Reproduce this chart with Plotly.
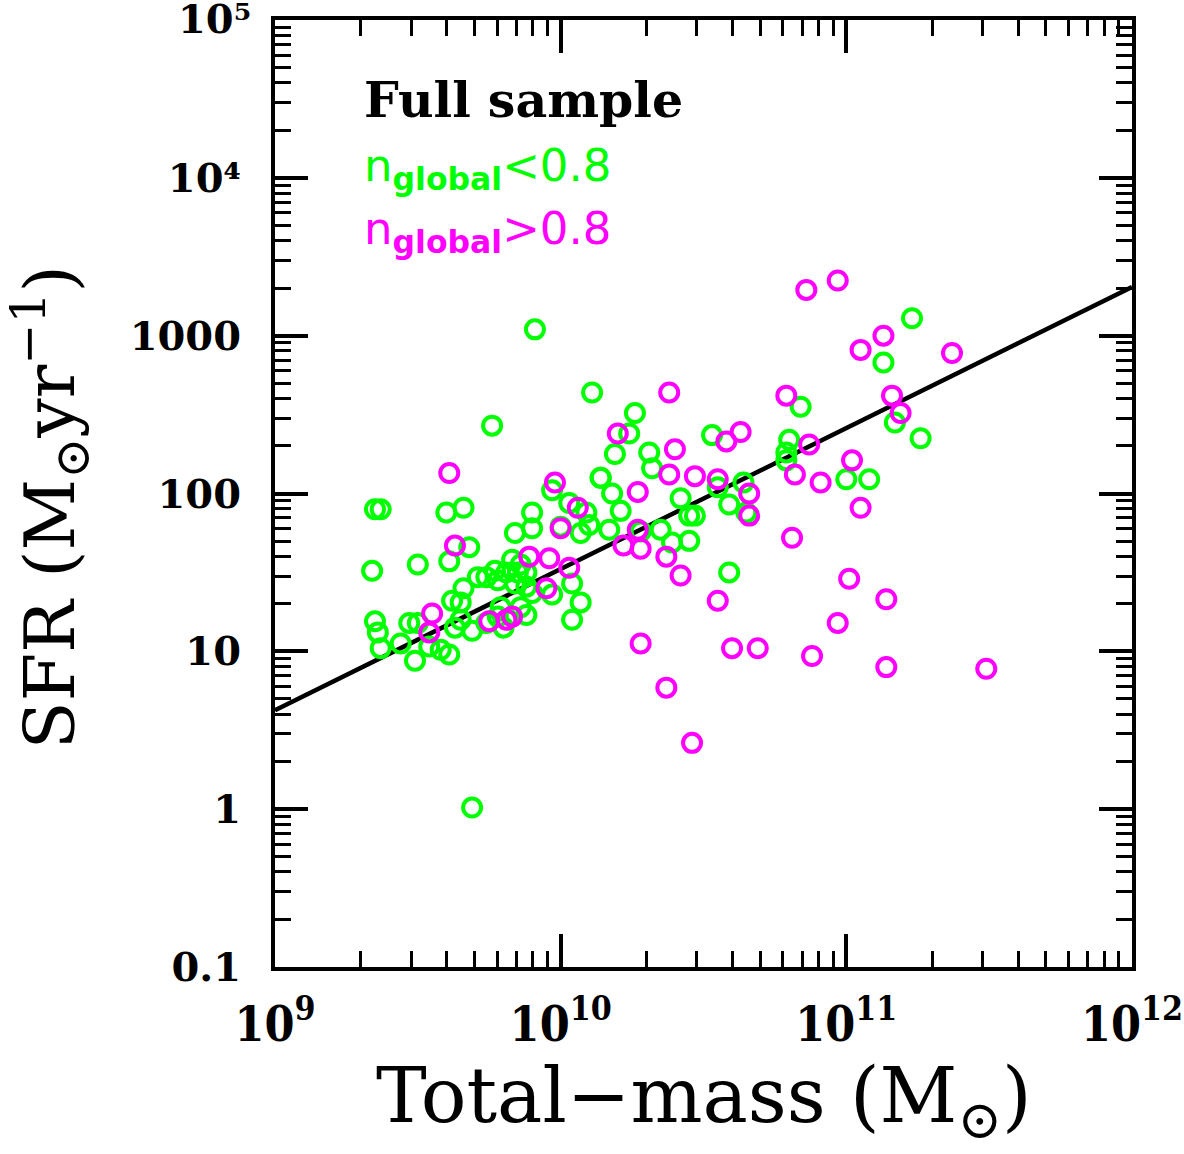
import plotly.graph_objects as go

# log10(Total mass / Msun) and log10(SFR / Msun yr^-1)
green_log_mass = [9.35, 9.37, 9.60, 9.66, 9.34, 9.50, 9.61, 9.68, 9.76, 9.90, 9.90, 9.84, 9.97, 10.03,
                  10.00, 10.07, 10.10, 10.14, 9.35, 9.36, 9.37, 9.44, 9.47, 9.50, 9.49, 9.58, 9.61, 9.54,
                  9.62, 9.66, 9.65, 9.71, 9.74, 9.77, 9.78, 9.83, 9.85, 9.88, 9.84, 9.88, 9.90, 9.65, 9.63,
                  9.69, 9.74, 9.78, 9.79, 9.80, 9.86, 9.88, 9.97, 10.04, 10.07, 10.04, 9.91, 10.11, 10.26,
                  10.24, 10.19, 10.31, 10.32, 10.14, 10.18, 10.21, 10.42, 10.45, 10.47, 10.53, 10.55, 10.59,
                  10.64, 10.65, 10.80, 10.79, 10.79, 10.84, 10.59, 10.35, 10.39, 10.45, 10.17, 10.09, 10.28,
                  11.00, 11.08, 11.23, 11.13, 11.17, 11.26, 9.69, 9.86, 9.81]
green_log_sfr = [1.90, 1.90, 1.88, 1.91, 1.51, 1.55, 1.57, 1.66, 2.43, 1.88, 1.78, 1.75, 2.02, 1.94,
                 1.79, 1.75, 1.80, 2.10, 1.19, 1.12, 1.02, 1.05, 1.18, 1.18, 0.94, 1.01, 0.98, 1.03,
                 1.32, 1.40, 1.31, 1.47, 1.47, 1.51, 1.45, 1.58, 1.50, 1.50, 1.43, 1.41, 1.37, 1.20, 1.15,
                 1.13, 1.18, 1.22, 1.28, 1.15, 1.28, 1.23, 1.36, 1.43, 1.31, 1.20, 3.04, 2.64, 2.51,
                 2.38, 2.25, 2.26, 2.16, 2.10, 2.00, 1.89, 1.97, 1.86, 1.86, 2.37, 2.04, 1.93,
                 2.07, 1.88, 2.34, 2.26, 2.21, 2.55, 1.50, 1.77, 1.69, 1.70, 1.77, 1.88, 1.76,
                 2.09, 2.09, 3.11, 2.83, 2.45, 2.35, 0.01, 1.55, 1.50]

magenta_log_mass = [9.61, 9.98, 10.06, 10.00, 9.63, 9.89, 9.96, 10.03, 9.95, 9.55, 9.54, 9.75, 9.81, 9.83,
                    10.38, 10.79, 10.20, 10.40, 10.58, 10.63, 10.38, 10.47, 10.55, 10.66, 10.66, 10.27,
                    10.82, 10.81, 10.27, 10.22, 10.28, 10.37, 10.42, 10.87, 11.02, 10.91, 11.05, 10.55,
                    11.01, 10.97, 11.14, 10.28, 10.60, 10.69, 10.88, 11.14, 10.37, 10.46, 10.86, 10.97,
                    11.13, 11.05, 11.37, 11.16, 11.19, 11.49]
magenta_log_sfr = [2.13, 2.07, 1.91, 1.78, 1.67, 1.60, 1.59, 1.53, 1.40, 1.24, 1.12, 1.19, 1.20, 1.22,
                   2.64, 2.62, 2.38, 2.28, 2.33, 2.39, 2.12, 2.11, 2.09, 2.00, 1.86, 2.01,
                   2.12, 1.72, 1.77, 1.67, 1.65, 1.60, 1.48, 2.31, 2.21, 2.07, 1.91, 1.32,
                   1.46, 1.18, 1.33, 1.05, 1.02, 1.02, 0.97, 0.90, 0.77, 0.42, 3.29, 3.35,
                   3.00, 2.91, 2.89, 2.62, 2.51, 0.89]

# best-fit relation: log SFR = fit_intercept + fit_slope * (log M - 9)
fit_intercept = 0.627
fit_slope = 0.894
fit_log_mass = [9.0, 12.0]

x_tickvals = [1e9, 1e10, 1e11, 1e12]
x_ticktext = ["10<sup>9</sup>", "10<sup>10</sup>", "10<sup>11</sup>", "10<sup>12</sup>"]
y_tickvals = [0.1, 1, 10, 100, 1000, 1e4, 1e5]
y_ticktext = ["0.1", "1", "10", "100", "1000", "10\u2074", ""]
y_top_label = "10\u2075"
x_decades = [9, 10, 11]
y_decades = [-1, 0, 1, 2, 3, 4]
minor_digits = [2, 3, 4, 5, 6, 7, 8, 9]

GREEN = "#00ff00"
MAGENTA = "#ff00ff"

fig = go.Figure()

fit_x = [10 ** v for v in fit_log_mass]
fit_y = [10 ** (fit_intercept + fit_slope * (v - 9)) for v in fit_log_mass]
fig.add_trace(go.Scatter(x=fit_x, y=fit_y, mode="lines",
                         line=dict(color="black", width=4.5), showlegend=False))

marker_style = dict(symbol="circle-open", size=18)
fig.add_trace(go.Scatter(x=[10 ** v for v in green_log_mass], y=[10 ** v for v in green_log_sfr],
                         mode="markers", showlegend=False,
                         marker=dict(**marker_style, color=GREEN, line=dict(color=GREEN, width=4))))
fig.add_trace(go.Scatter(x=[10 ** v for v in magenta_log_mass], y=[10 ** v for v in magenta_log_sfr],
                         mode="markers", showlegend=False,
                         marker=dict(**marker_style, color=MAGENTA, line=dict(color=MAGENTA, width=4))))

x_minor = [d * 10 ** e for e in x_decades for d in minor_digits]
y_minor = [d * 10.0 ** e for e in y_decades for d in minor_digits]

axis_common = dict(
    type="log", showgrid=False, zeroline=False, automargin=False,
    showline=True, linecolor="black", linewidth=4, mirror="allticks",
    ticks="inside", ticklen=33, tickwidth=3.5, tickcolor="black",
    ticklabeloverflow="allow",
)

fig.update_xaxes(**axis_common, range=[9, 12.0001], tickvals=x_tickvals, ticktext=x_ticktext,
                 minor=dict(ticks="inside", ticklen=16, tickwidth=3, tickcolor="black",
                            showgrid=False, tickvals=x_minor),
                 tickfont=dict(family="DejaVu Serif Condensed, DejaVu Serif", size=48, color="black",
                               weight="bold"),
                 ticklabelstandoff=12)
y_tickfont = dict(family="DejaVu Serif", size=40, color="black", weight="bold")
fig.update_yaxes(**axis_common, range=[-1.0001, 5.0001], tickvals=y_tickvals, ticktext=y_ticktext,
                 minor=dict(ticks="inside", ticklen=16, tickwidth=3, tickcolor="black",
                            showgrid=False, tickvals=y_minor),
                 tickfont=y_tickfont, ticklabelstandoff=22)

# top y tick label kept inside the page
fig.add_annotation(x=-0.0257, y=1.0, xref="paper", yref="paper", xanchor="right", yanchor="middle",
                   yshift=2, showarrow=False, text=y_top_label, font=y_tickfont)

fig.add_annotation(x=0.5, y=-0.142, xref="paper", yref="paper", xanchor="center", yanchor="middle",
                   showarrow=False, text="Total\u2212mass (M<sub>\u2299</sub>)",
                   font=dict(family="DejaVu Serif", size=76, color="black"))
fig.add_annotation(x=-0.262, y=0.486, xref="paper", yref="paper", xanchor="center", yanchor="middle",
                   showarrow=False, textangle=-90, text="SFR (M<sub>\u2299</sub>yr<sup>\u22121</sup>)",
                   font=dict(family="DejaVu Serif", size=70, color="black"))

fig.add_annotation(x=0.102, y=0.915, xref="paper", yref="paper", xanchor="left", yanchor="middle",
                   showarrow=False, text="<b>Full sample</b>",
                   font=dict(family="DejaVu Serif", size=49, color="black"))
fig.add_annotation(x=0.102, y=0.844, xref="paper", yref="paper", xanchor="left", yanchor="middle",
                   showarrow=False, text="n<sub><b>global</b></sub><0.8",
                   font=dict(family="DejaVu Sans", size=45, color=GREEN))
fig.add_annotation(x=0.102, y=0.777, xref="paper", yref="paper", xanchor="left", yanchor="middle",
                   showarrow=False, text="n<sub><b>global</b></sub>>0.8",
                   font=dict(family="DejaVu Sans", size=45, color=MAGENTA))

fig.update_layout(width=1184, height=1154, margin=dict(l=275, r=52, t=20, b=187),
                  paper_bgcolor="white", plot_bgcolor="white", showlegend=False)

fig.write_html("out.html")
